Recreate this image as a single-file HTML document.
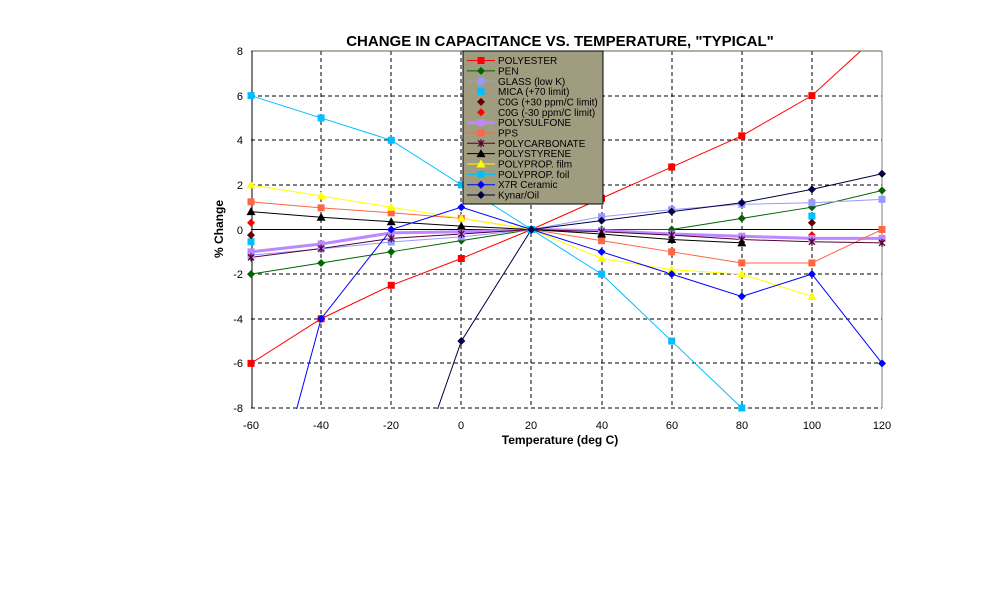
<!DOCTYPE html>
<html><head><meta charset="utf-8"><style>
body{margin:0;background:#fff;width:987px;height:591px;overflow:hidden}
svg text{font-family:"Liberation Sans",Arial,sans-serif}
</style></head><body>
<svg id="s" width="987" height="591" viewBox="0 0 987 591" xmlns="http://www.w3.org/2000/svg">
<defs><clipPath id="c"><rect x="251" y="51" width="632" height="358"/></clipPath></defs>
<text x="560" y="46" font-size="15" font-weight="bold" text-anchor="middle">CHANGE IN CAPACITANCE VS. TEMPERATURE, "TYPICAL"</text>
<g stroke="#000" stroke-width="1" stroke-dasharray="4,3" fill="none">
<line x1="251" y1="96" x2="882" y2="96"/><line x1="251" y1="140" x2="882" y2="140"/><line x1="251" y1="185" x2="882" y2="185"/>
<line x1="251" y1="274" x2="882" y2="274"/><line x1="251" y1="319" x2="882" y2="319"/><line x1="251" y1="363" x2="882" y2="363"/><line x1="251" y1="408" x2="882" y2="408"/>
<line x1="321" y1="51" x2="321" y2="408"/><line x1="391" y1="51" x2="391" y2="408"/><line x1="461" y1="51" x2="461" y2="408"/><line x1="531" y1="51" x2="531" y2="408"/>
<line x1="602" y1="51" x2="602" y2="408"/><line x1="672" y1="51" x2="672" y2="408"/><line x1="742" y1="51" x2="742" y2="408"/><line x1="812" y1="51" x2="812" y2="408"/>
</g>
<line x1="251" y1="51" x2="882" y2="51" stroke="#606048"/>
<line x1="882" y1="51" x2="882" y2="408" stroke="#808070"/>
<line x1="251" y1="229.5" x2="882" y2="229.5" stroke="#000"/>
<line x1="252" y1="51" x2="252" y2="408" stroke="#000"/>
<g font-size="11" text-anchor="end">
<text x="243" y="55">8</text><text x="243" y="100">6</text><text x="243" y="144">4</text><text x="243" y="189">2</text><text x="243" y="234">0</text>
<text x="243" y="278">-2</text><text x="243" y="323">-4</text><text x="243" y="367">-6</text><text x="243" y="412">-8</text>
</g>
<g font-size="11" text-anchor="middle">
<text x="251" y="429">-60</text><text x="321" y="429">-40</text><text x="391" y="429">-20</text><text x="461" y="429">0</text><text x="531" y="429">20</text>
<text x="602" y="429">40</text><text x="672" y="429">60</text><text x="742" y="429">80</text><text x="812" y="429">100</text><text x="882" y="429">120</text>
</g>
<text x="560" y="444" font-size="12" font-weight="bold" text-anchor="middle">Temperature (deg C)</text>
<text transform="translate(223,229) rotate(-90)" font-size="12" font-weight="bold" text-anchor="middle">% Change</text>
<g id="series" clip-path="url(#c)"></g>
<g id="marks"></g>
<rect x="463" y="51" width="140" height="153" fill="#a09c80" stroke="#000"/>
<g id="leg"></g>
<g font-size="10">
<text x="498" y="64">POLYESTER</text><text x="498" y="74.5">PEN</text><text x="498" y="85">GLASS (low K)</text><text x="498" y="95">MICA (+70 limit)</text>
<text x="498" y="105.5">C0G (+30 ppm/C limit)</text><text x="498" y="116">C0G (-30 ppm/C limit)</text><text x="498" y="126">POLYSULFONE</text>
<text x="498" y="136.5">PPS</text><text x="498" y="147">POLYCARBONATE</text><text x="498" y="157">POLYSTYRENE</text><text x="498" y="167.5">POLYPROP. film</text>
<text x="498" y="178">POLYPROP. foil</text><text x="498" y="188">X7R Ceramic</text><text x="498" y="198.5">Kynar/Oil</text>
</g>
</svg>
<script>
var NS="http://www.w3.org/2000/svg";
function X(t){return 251+(t+60)*3.5056}function Y(v){return 229.5-v*22.31}
var T=[-60,-40,-20,0,20,40,60,80,100,120];
var S=[
["#ff0000",1,"sq",[-6,-4,-2.5,-1.3,0,1.4,2.8,4.2,6,null],[[116,8.3]]],
["#006400",1,"di",[-2,-1.5,-1,-0.5,0,0,0,0.5,1,1.75]],
["#9999ff",1,"sq",[-1.15,-0.87,-0.56,-0.33,0,0.57,0.89,1.13,1.2,1.35]],
["#00bfff",0,"sq",[-0.55,null,null,null,null,null,null,null,0.6,null]],
["#660000",0,"di",[-0.25,null,null,null,null,null,null,null,0.3,null]],
["#ff0000",0,"di",[0.3,null,null,null,null,null,null,null,-0.25,null]],
["#bb88ff",3,"sq",[-1,-0.65,-0.15,-0.1,0,-0.05,-0.2,-0.3,-0.4,-0.4]],
["#ff6644",1,"sq",[1.24,0.97,0.75,0.5,0,-0.5,-1,-1.5,-1.5,0]],
["#550033",1,"x",[-1.25,-0.85,-0.4,-0.2,0,-0.1,-0.25,-0.45,-0.55,-0.6]],
["#000000",1,"tr",[0.8,0.55,0.35,0.15,0,-0.2,-0.45,-0.6,null,null]],
["#ffff00",1,"tr",[2,1.5,1,0.5,0,-1.3,-1.8,-2,-3,null]],
["#00bfff",1,"sq",[6,5,4,2,0,-2,-5,-8,null,null]],
["#0000ff",1,"di",[-15.6,-4,0,1,0,-1,-2,-3,-2,-6]],
["#000040",1,"di",[null,null,-14,-5,0,0.4,0.8,1.2,1.8,2.5]]
];
var g=document.getElementById("series"),gm=document.getElementById("marks"),lg=document.getElementById("leg");
function mk(p,c,m,x,y){var e;
 if(m=="sq"){e=document.createElementNS(NS,"rect");e.setAttribute("x",x-3.5);e.setAttribute("y",y-3.5);e.setAttribute("width",7);e.setAttribute("height",7);e.setAttribute("fill",c);}
 else if(m=="di"){e=document.createElementNS(NS,"polygon");e.setAttribute("points",[x,y-4,x+4,y,x,y+4,x-4,y].join(" "));e.setAttribute("fill",c);}
 else if(m=="tr"){e=document.createElementNS(NS,"polygon");e.setAttribute("points",[x,y-4.5,x+4.5,y+3.5,x-4.5,y+3.5].join(" "));e.setAttribute("fill",c);}
 else {e=document.createElementNS(NS,"path");e.setAttribute("d","M"+(x-3)+" "+(y-3)+"L"+(x+3)+" "+(y+3)+"M"+(x+3)+" "+(y-3)+"L"+(x-3)+" "+(y+3)+"M"+x+" "+(y-4)+"V"+(y+4));e.setAttribute("stroke",c);e.setAttribute("stroke-width",1.3);}
 p.appendChild(e);}
S.forEach(function(s,i){var pts=[],mk_=[];
 s[3].forEach(function(v,j){if(v!==null){pts.push(X(T[j])+","+Y(v));if(v>=-8.05&&v<=8.05)mk_.push([X(T[j]),Y(v)]);}});
 if(s[4])s[4].forEach(function(q){pts.push(X(q[0])+","+Y(q[1]));});
 if(s[1]){var l=document.createElementNS(NS,"polyline");l.setAttribute("points",pts.join(" "));l.setAttribute("fill","none");l.setAttribute("stroke",s[0]);l.setAttribute("stroke-width",s[1]);g.appendChild(l);}
 mk_.forEach(function(q){mk(gm,s[0],s[2],q[0],q[1]);});
 var ly=60.5+i*10.35;
 if(s[1]){var l2=document.createElementNS(NS,"line");l2.setAttribute("x1",467);l2.setAttribute("x2",495);l2.setAttribute("y1",ly);l2.setAttribute("y2",ly);l2.setAttribute("stroke",s[0]);l2.setAttribute("stroke-width",s[1]);lg.appendChild(l2);}
 mk(lg,s[0],s[2],481,ly);
});
</script>
</body></html>
